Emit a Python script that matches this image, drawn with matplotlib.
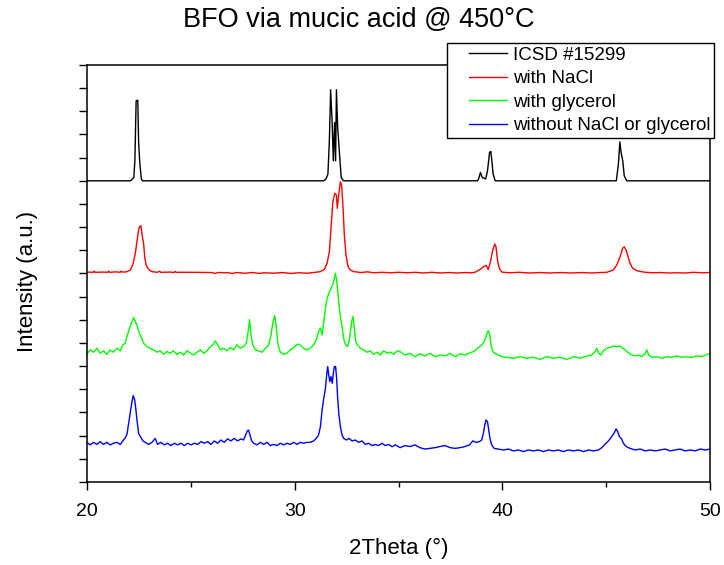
import matplotlib as mpl
mpl.use('Agg')
import matplotlib.pyplot as plt
from matplotlib.ticker import MultipleLocator
from matplotlib.legend_handler import HandlerLine2D
from matplotlib.lines import Line2D

plt.rcParams['font.family'] = ['Liberation Sans', 'DejaVu Sans']

# 2Theta / stacked intensity
icsd_x = [20.0, 22.10, 22.26, 22.31, 22.37, 22.45, 22.49, 22.54, 22.62, 22.68,
          31.40, 31.50, 31.60, 31.67, 31.73, 31.80, 31.86, 31.92, 31.97, 32.01,
          32.07, 32.17, 32.24, 32.35, 38.80, 38.86, 38.94, 39.03, 39.19, 39.28,
          39.38, 39.44, 39.49, 39.55, 39.65, 45.48, 45.58, 45.65, 45.71, 45.79,
          45.86, 45.98, 50.0]
icsd_y = [13.0, 13.0, 13.14, 13.86, 16.45, 16.48, 14.65, 13.86, 13.07, 13.0,
          13.0, 13.07, 13.29, 14.73, 16.93, 15.6, 13.86, 15.52, 13.86, 16.93,
          15.3, 14.0, 13.14, 13.0, 13.0, 13.10, 13.36, 13.14, 13.08, 13.43,
          14.22, 14.27, 13.86, 13.29, 13.0, 13.0, 13.72, 14.68, 14.22, 13.86,
          13.22, 13.0, 13.0]

nacl_x = [20.0, 20.3, 20.35, 20.4, 20.8, 21.0, 21.05, 21.1, 21.4, 21.6, 21.65, 21.7,
          21.9, 22.09, 22.21, 22.33, 22.41, 22.49, 22.54, 22.60, 22.66, 22.73,
          22.79, 22.86, 22.97, 23.13, 23.4, 23.5, 23.55, 24.0, 24.2, 24.25, 24.3,
          25.0, 26.0, 26.2, 26.3, 26.8, 27.0, 27.2, 27.6, 28.0, 28.3, 28.5, 29.0,
          29.4, 29.8, 30.2, 30.6, 31.0, 31.24, 31.43, 31.56, 31.67, 31.76, 31.84,
          31.93, 32.01, 32.05, 32.12, 32.20, 32.26, 32.33, 32.39, 32.47, 32.57,
          32.68, 32.84, 33.2, 33.5, 33.8, 34.2, 34.6, 35.0, 35.4, 35.8, 36.2, 36.6,
          37.0, 37.4, 37.8, 38.2, 38.5, 38.68, 38.92, 39.08, 39.21, 39.32, 39.44,
          39.53, 39.63, 39.69, 39.76, 39.85, 39.97, 40.3, 40.8, 41.3, 41.8, 42.3,
          42.8, 43.3, 43.8, 44.3, 44.7, 45.02, 45.34, 45.50, 45.66, 45.78, 45.86,
          45.95, 46.05, 46.14, 46.27, 46.47, 46.79, 47.2, 47.6, 48.0, 48.4, 48.8,
          49.2, 49.6, 50.0]
nacl_y = [9.06, 9.05, 9.10, 9.05, 9.06, 9.05, 9.10, 9.05, 9.07, 9.05, 9.10, 9.06,
          9.07, 9.15, 9.37, 9.87, 10.37, 10.88, 11.02, 11.06, 10.66, 10.30,
          9.65, 9.34, 9.18, 9.08, 9.05, 9.10, 9.05, 9.06, 9.04, 9.09, 9.05,
          9.05, 9.04, 9.00, 9.04, 9.03, 9.00, 9.04, 9.01, 9.04, 9.00, 9.03, 9.01,
          9.04, 9.00, 9.03, 9.01, 9.05, 9.08, 9.18, 9.44, 9.94, 11.09, 12.10,
          12.46, 12.39, 11.81, 12.39, 12.96, 12.82, 11.81, 10.66, 9.80, 9.29,
          9.15, 9.08, 9.04, 9.07, 9.03, 9.05, 9.03, 9.05, 9.03, 9.05, 9.02, 9.05,
          9.02, 9.04, 9.02, 9.04, 9.03, 9.05, 9.17, 9.29, 9.35, 9.17, 9.58,
          10.01, 10.27, 10.15, 9.58, 9.22, 9.06, 9.03, 9.05, 9.02, 9.04, 9.02,
          9.04, 9.02, 9.04, 9.02, 9.04, 9.05, 9.15, 9.36, 9.72, 10.08, 10.15,
          10.01, 9.72, 9.43, 9.22, 9.12, 9.06, 9.03, 9.04, 9.02, 9.03, 9.02,
          9.05, 9.03, 9.04]

glyc_x = [20.00, 20.16, 20.32, 20.48, 20.64, 20.80, 20.96, 21.12, 21.28, 21.44,
          21.61, 21.73, 21.85, 21.93, 22.05, 22.17, 22.25, 22.33, 22.41, 22.50,
          22.60, 22.73, 22.89, 23.05, 23.21, 23.37, 23.53, 23.69, 23.85, 24.01,
          24.17, 24.33, 24.49, 24.65, 24.82, 24.98, 25.14, 25.30, 25.46, 25.62,
          25.78, 25.94, 26.07, 26.18, 26.29, 26.42, 26.58, 26.74, 26.90, 27.06,
          27.22, 27.38, 27.54, 27.67, 27.75, 27.83, 27.90, 27.98, 28.11, 28.27,
          28.43, 28.59, 28.75, 28.86, 28.96, 29.04, 29.12, 29.20, 29.31, 29.47,
          29.63, 29.79, 29.95, 30.08, 30.19, 30.30, 30.43, 30.59, 30.75, 30.91,
          31.04, 31.15, 31.24, 31.32, 31.40, 31.48, 31.56, 31.65, 31.75, 31.83,
          31.89, 31.96, 32.02, 32.09, 32.15, 32.21, 32.29, 32.37, 32.45, 32.54,
          32.62, 32.68, 32.76, 32.81, 32.87, 32.94, 33.03, 33.16, 33.32, 33.48,
          33.64, 33.80, 33.96, 34.12, 34.28, 34.45, 34.61, 34.77, 34.93,
          35.07, 35.31, 35.55, 35.79, 36.03, 36.27, 36.51, 36.76, 37.00, 37.24,
          37.48, 37.72, 37.96, 38.20, 38.44, 38.63, 38.79, 38.95, 39.08, 39.18,
          39.26, 39.32, 39.39, 39.45, 39.53, 39.64, 39.80, 39.97, 40.21, 40.53,
          40.85, 41.17, 41.49, 41.81, 42.13, 42.45, 42.77, 43.10, 43.42, 43.74,
          44.06, 44.30, 44.46, 44.54, 44.64, 44.75, 44.86, 45.02, 45.18, 45.34,
          45.50, 45.66, 45.79, 45.90, 46.06, 46.22, 46.39, 46.55, 46.71, 46.87,
          46.95, 47.04, 47.19, 47.43, 47.67, 47.91, 48.15, 48.39, 48.63, 48.87,
          49.11, 49.35, 49.60, 49.80, 49.99]
glyc_y = [5.51, 5.70, 5.60, 5.77, 5.56, 5.66, 5.51, 5.70, 5.60, 5.77,
          5.66, 5.92, 5.99, 6.28, 6.64, 6.92, 7.10, 6.92, 6.78, 6.49,
          6.28, 5.99, 5.84, 5.77, 5.70, 5.60, 5.66, 5.51, 5.63, 5.56,
          5.66, 5.51, 5.60, 5.48, 5.66, 5.56, 5.48, 5.60, 5.70, 5.56,
          5.66, 5.84, 5.92, 6.09, 5.92, 5.70, 5.77, 5.66, 5.80, 5.70,
          5.92, 5.77, 5.84, 5.99, 6.42, 7.01, 6.35, 5.92, 5.70, 5.66,
          5.60, 5.77, 5.92, 6.35, 6.92, 7.18, 6.64, 5.92, 5.60, 5.51,
          5.56, 5.70, 5.80, 5.92, 5.95, 5.89, 5.77, 5.70, 5.77, 5.92,
          6.13, 6.49, 6.64, 6.35, 6.92, 7.50, 7.93, 8.15, 8.36, 8.51,
          8.72, 9.01, 8.72, 8.08, 7.50, 7.07, 6.64, 6.13, 5.92, 5.84,
          6.06, 6.49, 7.00, 7.14, 6.64, 6.06, 5.92, 5.77, 5.70, 5.60,
          5.66, 5.51, 5.60, 5.48, 5.66, 5.56, 5.60, 5.51, 5.66,
          5.63, 5.48, 5.55, 5.41, 5.53, 5.44, 5.55, 5.41, 5.48, 5.44,
          5.55, 5.41, 5.53, 5.48, 5.58, 5.63, 5.77, 5.87, 5.99, 6.20,
          6.42, 6.53, 6.35, 5.91, 5.63, 5.55, 5.48, 5.41, 5.38, 5.34,
          5.41, 5.34, 5.38, 5.29, 5.41, 5.34, 5.38, 5.29, 5.41, 5.34,
          5.44, 5.48, 5.63, 5.77, 5.55, 5.48, 5.67, 5.77, 5.81, 5.87,
          5.84, 5.87, 5.77, 5.70, 5.58, 5.48, 5.44, 5.48, 5.41, 5.55,
          5.70, 5.48, 5.38, 5.41, 5.34, 5.41, 5.38, 5.44, 5.38, 5.41,
          5.38, 5.44, 5.41, 5.48, 5.55]

plain_x = [20.00, 20.16, 20.32, 20.48, 20.64, 20.80, 20.96, 21.12, 21.28, 21.44,
           21.61, 21.73, 21.85, 21.93, 22.02, 22.10, 22.17, 22.23, 22.30, 22.36,
           22.42, 22.49, 22.57, 22.70, 22.81, 22.97, 23.13, 23.29, 23.40, 23.56,
           23.72, 23.88, 24.04, 24.21, 24.37, 24.53, 24.69, 24.85, 25.01, 25.17,
           25.33, 25.49, 25.65, 25.81, 25.97, 26.13, 26.29, 26.45, 26.61, 26.77,
           26.93, 27.09, 27.25, 27.42, 27.54, 27.64, 27.72, 27.78, 27.85, 27.93,
           28.03, 28.19, 28.35, 28.51, 28.67, 28.83, 28.99, 29.15, 29.31, 29.47,
           29.63, 29.79, 29.95, 30.11, 30.27, 30.43, 30.59, 30.75, 30.91, 31.04,
           31.15, 31.24, 31.32, 31.40, 31.48, 31.54, 31.59, 31.64, 31.69, 31.75,
           31.81, 31.86, 31.91, 31.97, 32.02, 32.07, 32.13, 32.20, 32.28, 32.36,
           32.49, 32.62, 32.76, 32.92, 33.08, 33.24, 33.40, 33.56, 33.72, 33.88,
           34.04, 34.20, 34.36, 34.53, 34.69, 34.85,
           35.07, 35.31, 35.55, 35.79, 36.03, 36.27, 36.51, 36.76, 37.00, 37.24,
           37.48, 37.72, 37.96, 38.20, 38.41, 38.57, 38.73, 38.89, 39.00, 39.08,
           39.15, 39.21, 39.28, 39.34, 39.40, 39.48, 39.60, 39.80, 40.05, 40.29,
           40.53, 40.77, 41.01, 41.25, 41.49, 41.73, 41.97, 42.21, 42.45, 42.69,
           42.93, 43.17, 43.42, 43.66, 43.90, 44.14, 44.38, 44.62, 44.78, 44.94,
           45.10, 45.26, 45.37, 45.47, 45.55, 45.63, 45.73, 45.82, 45.95, 46.14,
           46.39, 46.63, 46.87, 47.11, 47.35, 47.59, 47.83, 48.07, 48.31, 48.55,
           48.79, 49.03, 49.27, 49.52, 49.76, 50.0]
plain_y = [1.71, 1.60, 1.71, 1.62, 1.74, 1.62, 1.71, 1.60, 1.67, 1.71,
           1.62, 1.77, 1.91, 2.06, 2.60, 3.11, 3.47, 3.73, 3.54, 3.11,
           2.60, 2.10, 1.96, 1.77, 1.71, 1.62, 1.71, 1.88, 1.62, 1.71,
           1.60, 1.67, 1.57, 1.67, 1.60, 1.67, 1.57, 1.67, 1.60, 1.67,
           1.62, 1.74, 1.67, 1.74, 1.62, 1.77, 1.67, 1.81, 1.71, 1.86,
           1.77, 1.88, 1.77, 1.86, 1.81, 2.03, 2.20, 2.24, 2.03, 1.77,
           1.67, 1.60, 1.71, 1.62, 1.71, 1.57, 1.62, 1.57, 1.67, 1.60,
           1.67, 1.62, 1.71, 1.62, 1.71, 1.67, 1.71, 1.71, 1.77, 1.88,
           2.03, 2.39, 3.11, 3.61, 4.04, 4.62, 4.98, 4.62, 4.33, 4.55,
           4.26, 4.69, 4.98, 4.98, 4.47, 3.61, 2.89, 2.39, 2.03, 1.88,
           1.81, 1.88, 1.77, 1.81, 1.71, 1.77, 1.62, 1.67, 1.57, 1.62,
           1.57, 1.67, 1.57, 1.62, 1.52, 1.60,
           1.48, 1.57, 1.53, 1.60, 1.48, 1.42, 1.45, 1.48, 1.53, 1.57,
           1.48, 1.45, 1.48, 1.53, 1.60, 1.77, 1.71, 1.74, 1.81, 2.10,
           2.46, 2.68, 2.60, 2.24, 1.88, 1.60, 1.45, 1.42, 1.38, 1.42,
           1.34, 1.38, 1.31, 1.38, 1.34, 1.38, 1.31, 1.38, 1.34, 1.38,
           1.31, 1.38, 1.34, 1.38, 1.31, 1.38, 1.34, 1.38, 1.48, 1.63,
           1.77, 1.96, 2.10, 2.29, 2.17, 1.96, 1.86, 1.67, 1.53, 1.45,
           1.38, 1.42, 1.34, 1.38, 1.34, 1.38, 1.42, 1.34, 1.38, 1.42,
           1.34, 1.38, 1.34, 1.42, 1.38, 1.42]

series = [(icsd_x, icsd_y, '#000000', 'ICSD #15299'),
          (nacl_x, nacl_y, '#ff0000', 'with NaCl'),
          (glyc_x, glyc_y, '#00ff00', 'with glycerol'),
          (plain_x, plain_y, '#0000ff', 'without NaCl or glycerol')]


class IndentedLine(HandlerLine2D):
    # legend line only over the right part of the handle box
    def get_xdata(self, legend, xdescent, ydescent, width, height, fontsize):
        return [-xdescent + 0.32 * width, -xdescent + width], [-xdescent + width / 2]


fig = plt.figure(figsize=(7.24, 5.65), dpi=100)
ax = fig.add_axes([0.120, 0.147, 0.861, 0.738])

for x, y, col, lab in series:
    ax.plot(x, y, color=col, lw=1.0, label=lab)

ax.set_xlim(20, 50)
ax.set_ylim(0, 18)
ax.xaxis.set_major_locator(MultipleLocator(10))
ax.xaxis.set_minor_locator(MultipleLocator(5))
ax.yaxis.set_major_locator(MultipleLocator(1))
ax.tick_params(axis='x', which='major', direction='out', length=6, width=1,
               labelsize=14, pad=9)
ax.tick_params(axis='x', which='minor', direction='out', length=3.5, width=1)
ax.tick_params(axis='y', direction='out', length=6, width=1, labelleft=False)
for sp in ax.spines.values():
    sp.set_linewidth(1.1)

ax.set_xlabel('2Theta (°)', fontsize=16)
ax.xaxis.set_label_coords(0.5, -0.135)
ax.set_ylabel('Intensity (a.u.)', fontsize=16)
ax.yaxis.set_label_coords(-0.078, 0.48)

fig.text(0.496, 0.965, 'BFO via mucic acid @ 450°C', ha='center', va='center',
         fontsize=19.5)

leg = fig.legend(loc='upper left', bbox_to_anchor=(0.6174, 0.9239),
                 borderaxespad=0, fontsize=13.5, frameon=True, fancybox=False,
                 framealpha=1, edgecolor='black', borderpad=0.2,
                 labelspacing=0.34, handlelength=3.0, handletextpad=0.3,
                 handler_map={Line2D: IndentedLine()})
leg.get_frame().set_linewidth(1.0)

fig.savefig('out.png', dpi=100)
